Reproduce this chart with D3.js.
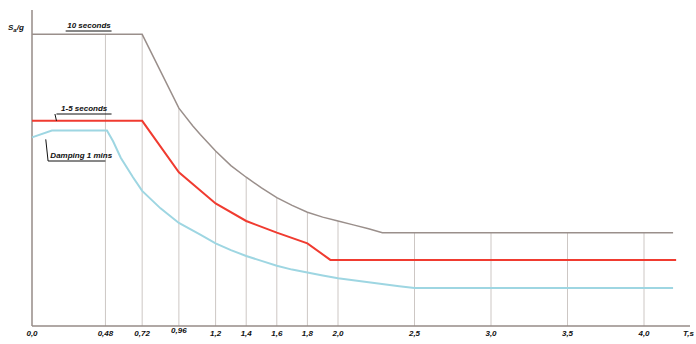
<!DOCTYPE html>
<html>
<head>
<meta charset="utf-8">
<script src="https://cdn.jsdelivr.net/npm/d3@7"></script>
<style>
  body { margin: 0; background: #fff; }
  svg { display: block; }
  .lbl { font-family: "Liberation Sans", Arial, sans-serif; font-weight: bold; font-style: italic; font-size: 8px; fill: #111; }
</style>
</head>
<body>
<div class="canvas"></div>
<script>
const dims = { width: 696, height: 344 };

// period T (s) and Sa/g
const grayT   = [0, 0.72, 0.96, 1.05, 1.1, 1.2, 1.3, 1.4, 1.5, 1.6, 1.7, 1.8, 1.9, 2.0, 2.1, 2.2, 2.29, 4.19];
const grayV   = [3.0, 3.0, 2.24, 2.06, 1.97, 1.80, 1.65, 1.53, 1.42, 1.32, 1.24, 1.17, 1.12, 1.08, 1.04, 1.00, 0.96, 0.96];
const redT    = [0, 0.72, 0.96, 1.2, 1.4, 1.6, 1.8, 1.95, 4.21];
const redV    = [2.11, 2.11, 1.58, 1.26, 1.08, 0.96, 0.85, 0.68, 0.68];
const blueT   = [0, 0.13, 0.49, 0.53, 0.58, 0.66, 0.72, 0.84, 0.96, 1.1, 1.2, 1.3, 1.4, 1.5, 1.6, 1.7, 1.8, 1.9, 2.0, 2.2, 2.4, 2.5, 4.19];
const blueV   = [1.94, 2.01, 2.01, 1.90, 1.73, 1.53, 1.39, 1.21, 1.06, 0.94, 0.85, 0.78, 0.72, 0.67, 0.62, 0.58, 0.55, 0.52, 0.49, 0.45, 0.41, 0.39, 0.39];
const tickVals   = [0, 0.48, 0.72, 0.96, 1.2, 1.4, 1.6, 1.8, 2.0, 2.5, 3.0, 3.5, 4.0];
const tickLabels = ["0,0", "0,48", "0,72", "0,96", "1,2", "1,4", "1,6", "1,8", "2,0", "2,5", "3,0", "3,5", "4,0"];
const seriesNames = ["10 seconds", "1-5 seconds", "Damping 1 mins"];

const svg = d3.select('.canvas').append('svg')
  .attr('width', dims.width)
  .attr('height', dims.height);

const x = d3.scaleLinear().domain([0, 4]).range([32, 644]);
const y = d3.scaleLinear().domain([0, 3.25]).range([326, 10]);

const gray = grayT.map((t, i) => ({ t: t, v: grayV[i] }));
const red = redT.map((t, i) => ({ t: t, v: redV[i] }));
const blue = blueT.map((t, i) => ({ t: t, v: blueV[i] }));

// top of a grid line = gray envelope at that period
const bis = d3.bisector(d => d.t).left;
function grayAt(t) {
  let i = bis(gray, t);
  if (i <= 0) return gray[0].v;
  const a = gray[i - 1], b = gray[i];
  return a.v + (b.v - a.v) * (t - a.t) / (b.t - a.t);
}

// vertical grid lines
svg.append('g').selectAll('line')
  .data(tickVals.filter(d => d > 0))
  .enter().append('line')
  .attr('x1', d => x(d)).attr('x2', d => x(d))
  .attr('y1', d => y(grayAt(d))).attr('y2', y(0))
  .attr('stroke', '#cdc7c4')
  .attr('stroke-width', 1);

// axes
svg.append('line')
  .attr('x1', x(0)).attr('x2', 690)
  .attr('y1', y(0)).attr('y2', y(0))
  .attr('stroke', '#968b87').attr('stroke-width', 1.5);
svg.append('line')
  .attr('x1', x(0)).attr('x2', x(0))
  .attr('y1', y(0)).attr('y2', y(3.25))
  .attr('stroke', '#968b87').attr('stroke-width', 1.5);

const line = d3.line().x(d => x(d.t)).y(d => y(d.v));

svg.append('path').datum(blue)
  .attr('d', line).attr('fill', 'none')
  .attr('stroke', '#9ed6e2').attr('stroke-width', 2);
svg.append('path').datum(red)
  .attr('d', line).attr('fill', 'none')
  .attr('stroke', '#f03b30').attr('stroke-width', 2);
svg.append('path').datum(gray)
  .attr('d', line).attr('fill', 'none')
  .attr('stroke', '#9a8f8b').attr('stroke-width', 1.5);

// tick labels
svg.append('g').selectAll('text')
  .data(tickVals)
  .enter().append('text')
  .attr('class', 'lbl')
  .attr('x', d => x(d))
  .attr('y', (d, i) => i == 3 ? 333 : 336)
  .attr('text-anchor', 'middle')
  .text((d, i) => tickLabels[i]);

svg.append('text').attr('class', 'lbl')
  .attr('x', 683).attr('y', 336)
  .text('T,s');

// y title
const yt = svg.append('text').attr('class', 'lbl')
  .attr('x', 8).attr('y', 30);
yt.append('tspan').text('S');
yt.append('tspan').attr('font-size', '6px').attr('dy', 2).text('a');
yt.append('tspan').attr('dy', -2).text('/g');

// leader labels
const notes = [
  { name: seriesNames[0], tx: 0.23, ux0: 0.22, ux1: 0.52, v: grayV[0], lead: null },
  { name: seriesNames[1], tx: 0.19, ux0: 0.16, ux1: 0.52, v: redV[0], lead: [0.16, 0.15] },
  { name: seriesNames[2], tx: 0.12, ux0: 0.105, ux1: 0.48, v: blueV[0], lead: [0.09, 0.105] }
];

const uy = [31, 114, 161];
const ty = [28, 111, 158];

notes.forEach((n, i) => {
  svg.append('line')
    .attr('x1', x(n.ux0)).attr('x2', x(n.ux1))
    .attr('y1', uy[i]).attr('y2', uy[i])
    .attr('stroke', '#111').attr('stroke-width', 1);
  svg.append('text').attr('class', 'lbl')
    .attr('x', x(n.tx)).attr('y', ty[i])
    .text(n.name);
  if (n.lead) {
    svg.append('line')
      .attr('x1', x(n.lead[0])).attr('x2', x(n.lead[1]))
      .attr('y1', i == 1 ? y(n.v) : y(n.v) + 2).attr('y2', uy[i])
      .attr('stroke', '#111').attr('stroke-width', 1);
  }
});
</script>
</body>
</html>
